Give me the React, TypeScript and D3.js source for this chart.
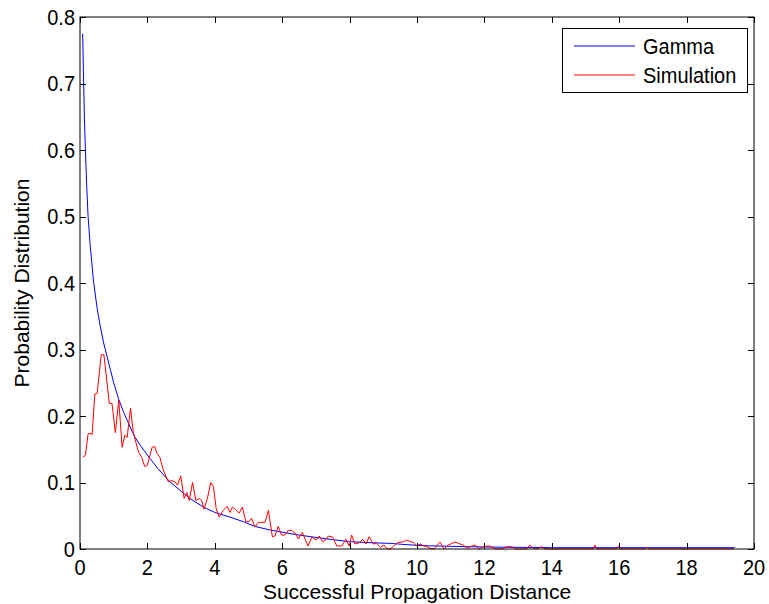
import React, { useRef, useEffect } from "react";
import * as d3 from "d3";

// Gamma fit curve
const gammaX = [0.08, 0.1, 0.13, 0.16, 0.2, 0.24, 0.3, 0.4, 0.5, 0.6, 0.7, 0.8, 0.9, 1.0, 1.15, 1.3, 1.45, 1.62, 1.8, 2.08, 2.31, 2.67, 3.0, 3.26, 3.7, 4.0, 4.45, 4.85, 5.19, 5.6, 6.08, 6.5, 6.97, 7.5, 8.0, 8.6, 9.2, 9.7, 10.2, 11, 12, 13, 14, 16, 19.43];
const gammaY = [0.775, 0.72, 0.65, 0.6, 0.545, 0.5, 0.458, 0.403, 0.365, 0.335, 0.31, 0.29, 0.27, 0.25, 0.225, 0.205, 0.188, 0.169, 0.155, 0.136, 0.121, 0.101, 0.087, 0.076, 0.062, 0.055, 0.048, 0.041, 0.034, 0.029, 0.0245, 0.021, 0.0176, 0.014, 0.011, 0.0095, 0.0085, 0.0065, 0.005, 0.004, 0.003, 0.0025, 0.002, 0.002, 0.002];

// Simulation histogram
const simX = [0.08, 0.16, 0.24, 0.3, 0.36, 0.44, 0.51, 0.63, 0.71, 0.87, 0.95, 1.05, 1.15, 1.25, 1.33, 1.4, 1.5, 1.58, 1.64, 1.74, 1.82, 1.92, 2.0, 2.06, 2.14, 2.22, 2.28, 2.37, 2.47, 2.62, 2.72, 2.82, 2.89, 2.99, 3.09, 3.17, 3.24, 3.34, 3.44, 3.54, 3.61, 3.68, 3.78, 3.88, 3.96, 4.04, 4.13, 4.25, 4.37, 4.45, 4.52, 4.62, 4.72, 4.82, 4.92, 5.01, 5.09, 5.19, 5.29, 5.39, 5.49, 5.59, 5.71, 5.79, 5.88, 5.98, 6.08, 6.18, 6.28, 6.38, 6.48, 6.6, 6.68, 6.77, 6.88, 7.0, 7.1, 7.2, 7.28, 7.37, 7.5, 7.62, 7.77, 7.89, 7.99, 8.06, 8.16, 8.29, 8.39, 8.49, 8.58, 8.7, 8.8, 8.92, 9.02, 9.12, 9.2, 9.3, 9.42, 9.6, 9.71, 9.79, 9.89, 9.99, 10.09, 10.19, 10.29, 10.39, 10.5, 10.68, 10.8, 10.93, 11.13, 11.28, 11.37, 11.49, 11.59, 11.72, 11.85, 11.95, 12.12, 12.26, 12.37, 12.54, 12.66, 12.81, 12.94, 13.25, 13.35, 13.45, 13.55, 13.7, 13.8, 15.23, 15.28, 15.33, 15.92, 15.97, 16.02, 16.78, 16.83, 16.88, 19.39];
const simY = [0.138, 0.141, 0.173, 0.174, 0.172, 0.233, 0.234, 0.292, 0.292, 0.219, 0.219, 0.175, 0.224, 0.153, 0.171, 0.168, 0.212, 0.176, 0.164, 0.145, 0.139, 0.124, 0.126, 0.138, 0.153, 0.154, 0.144, 0.138, 0.119, 0.101, 0.103, 0.101, 0.096, 0.11, 0.076, 0.085, 0.073, 0.1, 0.073, 0.076, 0.073, 0.06, 0.076, 0.1, 0.094, 0.061, 0.048, 0.058, 0.064, 0.055, 0.063, 0.059, 0.054, 0.063, 0.041, 0.041, 0.046, 0.033, 0.04, 0.04, 0.04, 0.058, 0.018, 0.02, 0.034, 0.021, 0.021, 0.028, 0.028, 0.024, 0.015, 0.025, 0.015, 0.0045, 0.018, 0.0135, 0.0195, 0.011, 0.013, 0.0195, 0.0176, 0.0045, 0.0045, 0.0146, 0.0045, 0.021, 0.0075, 0.0095, 0.0146, 0.0075, 0.0185, 0.0075, 0.0085, 0.0025, 0.006, 0, 0, 0.004, 0.0095, 0.011, 0.0135, 0.011, 0.01, 0.0045, 0.0075, 0.005, 0.0035, 0.001, 0, 0.0105, 0, 0.006, 0.0105, 0.0075, 0.006, 0.001, 0.0035, 0.006, 0, 0.0035, 0.0045, 0.002, 0, 0, 0.0035, 0.0035, 0, 0, 0.006, 0.001, 0, 0.0035, 0, 0, 0.006, 0, 0, 0.004, 0, 0, 0.003, 0, 0];

const xTicks = [0, 2, 4, 6, 8, 10, 12, 14, 16, 18, 20];
const yTicks = [0, 0.1, 0.2, 0.3, 0.4, 0.5, 0.6, 0.7, 0.8];
const legendItems = [
  { label: "Gamma", color: "#0000ff" },
  { label: "Simulation", color: "#ff0000" },
];

const App = () => {
  const svgRef = useRef(null);
  const width = 769;
  const height = 604;

  useEffect(() => {
    const svg = d3.select(svgRef.current);
    svg.selectAll("*").remove();

    const left = 80, right = 754, top = 17, bottom = 549;
    const font = "'Liberation Sans', Arial, sans-serif";
    const stretch = "scale(1,1.1)"; // glyphs in the original are a bit taller

    const x = d3.scaleLinear().domain([0, 20]).range([left, right]);
    const y = d3.scaleLinear().domain([0, 0.8]).range([bottom, top]);

    svg.append("rect").attr("width", width).attr("height", height).attr("fill", "#fff");

    const line = d3
      .line()
      .x((d) => x(d[0]))
      .y((d) => y(d[1]));

    const plot = svg.append("g");
    plot
      .append("path")
      .datum(gammaX.map((v, i) => [v, gammaY[i]]))
      .attr("d", line)
      .attr("fill", "none")
      .attr("stroke", "#0000ff")
      .attr("stroke-width", 1);
    plot
      .append("path")
      .datum(simX.map((v, i) => [v, simY[i]]))
      .attr("d", line)
      .attr("fill", "none")
      .attr("stroke", "#ff0000")
      .attr("stroke-width", 1);

    // box + inward ticks
    const axes = svg.append("g").attr("stroke", "#000").attr("stroke-width", 1);
    axes
      .append("rect")
      .attr("x", left)
      .attr("y", top)
      .attr("width", right - left)
      .attr("height", bottom - top)
      .attr("fill", "none");
    const tl = 6;
    xTicks.forEach((t) => {
      const px = Math.round(x(t)) + 0.5;
      axes.append("line").attr("x1", px).attr("x2", px).attr("y1", bottom).attr("y2", bottom - tl);
      axes.append("line").attr("x1", px).attr("x2", px).attr("y1", top).attr("y2", top + tl);
    });
    yTicks.forEach((t) => {
      const py = Math.round(y(t)) + 0.5;
      axes.append("line").attr("x1", left).attr("x2", left + tl).attr("y1", py).attr("y2", py);
      axes.append("line").attr("x1", right).attr("x2", right - tl).attr("y1", py).attr("y2", py);
    });

    const labels = svg.append("g").style("font-family", font).style("font-size", "20px").attr("fill", "#000");
    labels
      .selectAll("text.xt")
      .data(xTicks)
      .enter()
      .append("text")
      .attr("transform", (d) => `translate(${x(d)},575) ${stretch}`)
      .attr("text-anchor", "middle")
      .text((d) => d);
    labels
      .selectAll("text.yt")
      .data(yTicks)
      .enter()
      .append("text")
      .attr("transform", (d) => `translate(75,${y(d) + 7.5}) ${stretch}`)
      .attr("text-anchor", "end")
      .text((d) => (d === 0 ? "0" : d3.format(".1f")(d)));

    labels
      .append("text")
      .attr("x", (left + right) / 2)
      .attr("y", 599)
      .attr("text-anchor", "middle")
      .style("font-size", "21px")
      .text("Successful Propagation Distance");
    labels
      .append("text")
      .attr("transform", `translate(29,${(top + bottom) / 2}) rotate(-90)`)
      .attr("text-anchor", "middle")
      .style("font-size", "21px")
      .text("Probability Distribution");

    // legend
    const lg = svg.append("g");
    lg.append("rect")
      .attr("x", 562.5)
      .attr("y", 28.5)
      .attr("width", 185)
      .attr("height", 64)
      .attr("fill", "#fff")
      .attr("stroke", "#000");
    legendItems.forEach((d, i) => {
      const ly = 46 + i * 29;
      lg.append("line")
        .attr("x1", 574)
        .attr("x2", 635)
        .attr("y1", ly)
        .attr("y2", ly)
        .attr("stroke", d.color)
        .attr("stroke-width", 1);
      lg.append("text")
        .attr("transform", `translate(643,${ly + 7.5}) ${stretch}`)
        .style("font-family", font)
        .style("font-size", "20px")
        .text(d.label);
    });
  }, []);

  return (
    <svg
      ref={svgRef}
      width={width}
      height={height}
      style={{ position: "absolute", left: 0, top: 0 }}
    ></svg>
  );
};

export default App;
